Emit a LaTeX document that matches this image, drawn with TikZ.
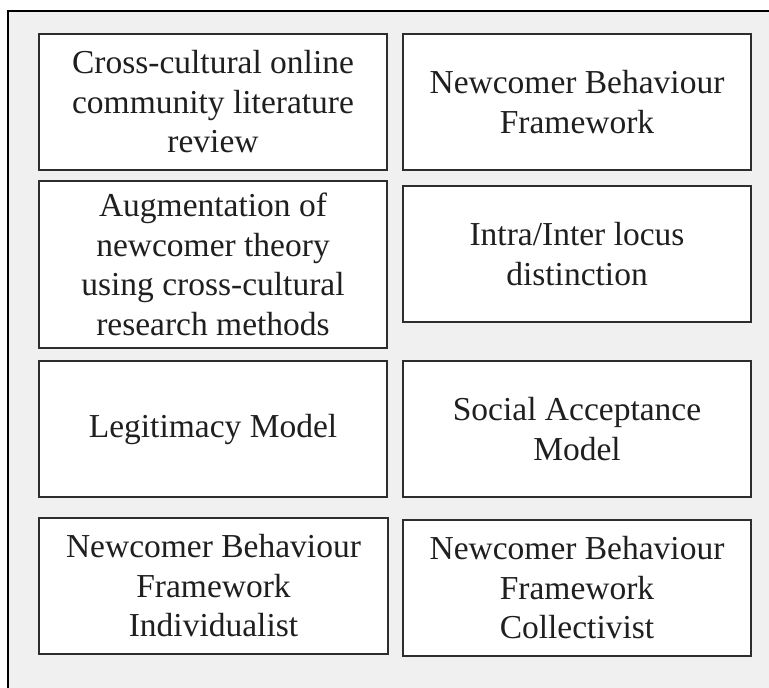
\documentclass[tikz,border=0pt]{standalone}
\usepackage{fontspec}
\setmainfont{Liberation Serif}
\usepackage{tikz}
\usetikzlibrary{positioning}
\definecolor{panel}{RGB}{240, 240, 240}
\definecolor{edge}{RGB}{45, 45, 45}

\begin{document}
\begin{tikzpicture}[x=1pt, y=-1pt,
    stage/.style={draw=edge, line width=1.1pt, fill=white, inner sep=0pt,
      minimum width=348pt, minimum height=136pt, align=center,
      font=\fontsize{33.5}{39.5}\selectfont, text=black!88}]
    \useasboundingbox (0,0) rectangle (769,688);

    % Panel behind the boxes
    \draw[line width=1.1pt, fill=panel] (8,11) rectangle (790,710);

    % Left column
    \node[stage] (review) at (213,102) {Cross-cultural online\\community literature\\review};
    \node[stage, minimum height=167pt] (augment) at (213,264.5) {Augmentation of\\newcomer theory\\using cross-cultural\\research methods};
    \node[stage] (legit) at (213,429) {Legitimacy Model};
    \node[stage, minimum width=349pt] (indiv) at (213.5,586) {Newcomer Behaviour\\Framework\\Individualist};

    % Right column
    \node[stage] (nbf) at (577,102) {Newcomer Behaviour\\Framework};
    \node[stage] (locus) at (577,254) {Intra/Inter locus\\distinction};
    \node[stage] (social) at (577,429) {Social Acceptance\\Model};
    \node[stage] (collect) at (577,588) {Newcomer Behaviour\\Framework\\Collectivist};
\end{tikzpicture}
\end{document}
